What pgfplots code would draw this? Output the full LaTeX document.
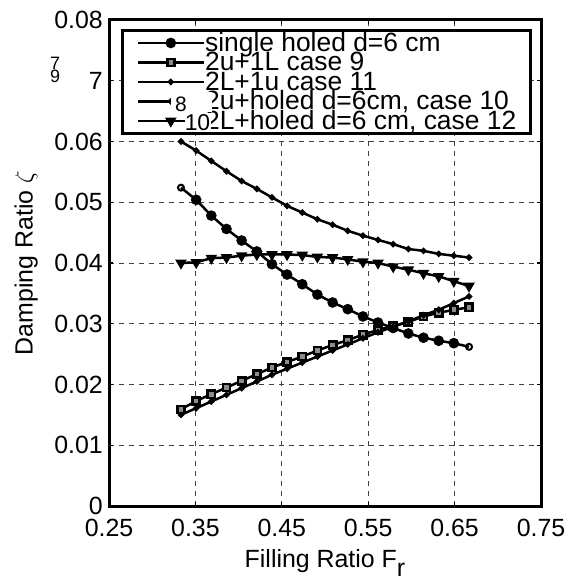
\documentclass[border=0pt]{standalone}
\usepackage{pgfplots}
\pgfplotsset{compat=1.18}
\usepackage{fontspec}
\setmainfont{Liberation Sans}
\begin{document}
\begin{tikzpicture}
\begin{axis}[
  scale only axis,
  width=432bp, height=486bp,
  xmin=0.25, xmax=0.75, ymin=0, ymax=0.08,
  xtick={0.25,0.35,0.45,0.55,0.65,0.75},
  xticklabels={0.25,0.35,0.45,0.55,0.65,0.75},
  ytick={0,0.01,0.02,0.03,0.04,0.05,0.06,0.07,0.08},
  yticklabels={0,0.01,0.02,0.03,0.04,0.05,0.06,7,0.08},
  scaled y ticks=false,
  tick label style={font=\fontsize{25}{25}\selectfont},
  xticklabel style={inner sep=0pt, anchor=north, yshift=-13bp},
  yticklabel style={inner sep=0pt, anchor=east, xshift=-6bp},
  tick align=inside, tick pos=both,
  major tick length=4bp,
  tick style={line width=1.2bp, black},
  axis line style={line width=3bp},
  grid=major,
  major grid style={dash pattern=on 5bp off 5bp, line width=0.8bp, black!75},
  xlabel={Filling Ratio F\raisebox{-0.36em}{r}},
  ylabel={Damping Ratio $\zeta$},
  label style={font=\fontsize{25}{25}\selectfont},
  xlabel style={yshift=-9bp},
  ylabel style={yshift=13bp},
  legend cell align=left,
  legend image code/.code={%
    \draw[black, line width=2.6bp] (0bp,0bp) -- (66bp,0bp);
    \draw[#1, mark indices={2}] plot coordinates {(0bp,0bp) (33bp,0bp) (66bp,0bp)};},
  legend style={at={(rel axis cs:0.0278,0.981)}, anchor=north west,
    draw=black, line width=3bp, fill=white,
    inner xsep=14bp, inner ysep=2.5bp, row sep=0pt, column sep=0bp,
    font=\fontsize{26.5}{26.5}\selectfont,
    nodes={inner sep=0pt, text height=18bp, text depth=1.5bp, fill=none, draw=none}},
]
% single holed d=6 cm
\addplot[black, line width=2.5bp, mark=*, mark size=4bp, mark indices={2,...,19}] coordinates {
(0.3333,0.0524) (0.3509,0.0504) (0.3684,0.0478) (0.3860,0.0456) (0.4035,0.0437)
(0.4211,0.0419) (0.4386,0.0398) (0.4561,0.0381) (0.4737,0.0365) (0.4912,0.0348)
(0.5088,0.0335) (0.5263,0.0324) (0.5439,0.0312) (0.5614,0.0302) (0.5789,0.0293)
(0.5965,0.0284) (0.6140,0.0277) (0.6316,0.0272) (0.6491,0.0268) (0.6667,0.0262)};
\addlegendentry{single holed d=6 cm}
% 2u+1L case 9
\addplot[black, line width=2.5bp, mark=square*, mark size=3.6bp, mark options={line width=2.6bp, fill=black!45}] coordinates {
(0.3333,0.0159) (0.3509,0.0173) (0.3684,0.0184) (0.3860,0.0195) (0.4035,0.0206)
(0.4211,0.0217) (0.4386,0.0228) (0.4561,0.0237) (0.4737,0.0246) (0.4912,0.0256)
(0.5088,0.0265) (0.5263,0.0273) (0.5439,0.0282) (0.5614,0.0290) (0.5789,0.0296)
(0.5965,0.0303) (0.6140,0.0312) (0.6316,0.0318) (0.6491,0.0323) (0.6667,0.0327)};
\addlegendentry{2u+1L case 9}
% 2L+1u case 11
\addplot[black, line width=2.5bp, mark=*, mark size=1.8bp] coordinates {
(0.3333,0.0600) (0.3509,0.0585) (0.3684,0.0568) (0.3860,0.0551) (0.4035,0.0535)
(0.4211,0.0522) (0.4386,0.0508) (0.4561,0.0494) (0.4737,0.0483) (0.4912,0.0472)
(0.5088,0.0463) (0.5263,0.0453) (0.5439,0.0445) (0.5614,0.0438) (0.5789,0.0431)
(0.5965,0.0423) (0.6140,0.0420) (0.6316,0.0415) (0.6491,0.0412) (0.6667,0.0409)};
\addlegendentry{2L+1u case 11}
% 2u+holed case 10
\addplot[black, line width=2.5bp, mark=*, mark size=1.8bp] coordinates {
(0.3333,0.0150) (0.3509,0.0161) (0.3684,0.0172) (0.3860,0.0183) (0.4035,0.0194)
(0.4211,0.0205) (0.4386,0.0216) (0.4561,0.0226) (0.4737,0.0236) (0.4912,0.0246)
(0.5088,0.0256) (0.5263,0.0266) (0.5439,0.0276) (0.5614,0.0286) (0.5789,0.0295)
(0.5965,0.0304) (0.6140,0.0314) (0.6316,0.0323) (0.6491,0.0334) (0.6667,0.0345)};
\addlegendentry{2u+holed d=6cm, case 10}
% 2L+holed case 12
\addplot[black, line width=2.5bp, mark=triangle*, mark size=4.2bp, mark options={rotate=180}] coordinates {
(0.3333,0.0400) (0.3509,0.0401) (0.3684,0.0408) (0.3860,0.0409) (0.4035,0.0412)
(0.4211,0.0414) (0.4386,0.0414) (0.4561,0.0414) (0.4737,0.0413) (0.4912,0.0410)
(0.5088,0.0409) (0.5263,0.0406) (0.5439,0.0402) (0.5614,0.0400) (0.5789,0.0394)
(0.5965,0.0389) (0.6140,0.0383) (0.6316,0.0378) (0.6491,0.0370) (0.6667,0.0362)};
\addlegendentry{2L+holed d=6 cm, case 12}
% hollow end markers of the single holed series
\addplot[only marks, mark=o, mark size=3bp, mark options={line width=2bp, fill=white}, forget plot] coordinates {
(0.3333,0.0524) (0.6667,0.0262)};
\end{axis}
\begin{scope}[shift={(current axis.north west)}, xshift=-109bp, yshift=20bp, x=1bp, y=-1bp]
  \node[font=\fontsize{18}{18}\selectfont, inner sep=0pt] at (55,63.5) {7};
  \node[font=\fontsize{18}{18}\selectfont, inner sep=0pt] at (55,76) {9};
  \fill[white] (171,92) rectangle (212,112);
  \node[font=\fontsize{21}{21}\selectfont, inner sep=0pt] at (181,104) {8};
  \fill[white] (185,113) rectangle (211,130);
  \node[font=\fontsize{23}{23}\selectfont, inner sep=0pt] at (197.5,123) {10};
  \pgfresetboundingbox
  \path (0,0) rectangle (570,582);
\end{scope}
\end{tikzpicture}
\end{document}
